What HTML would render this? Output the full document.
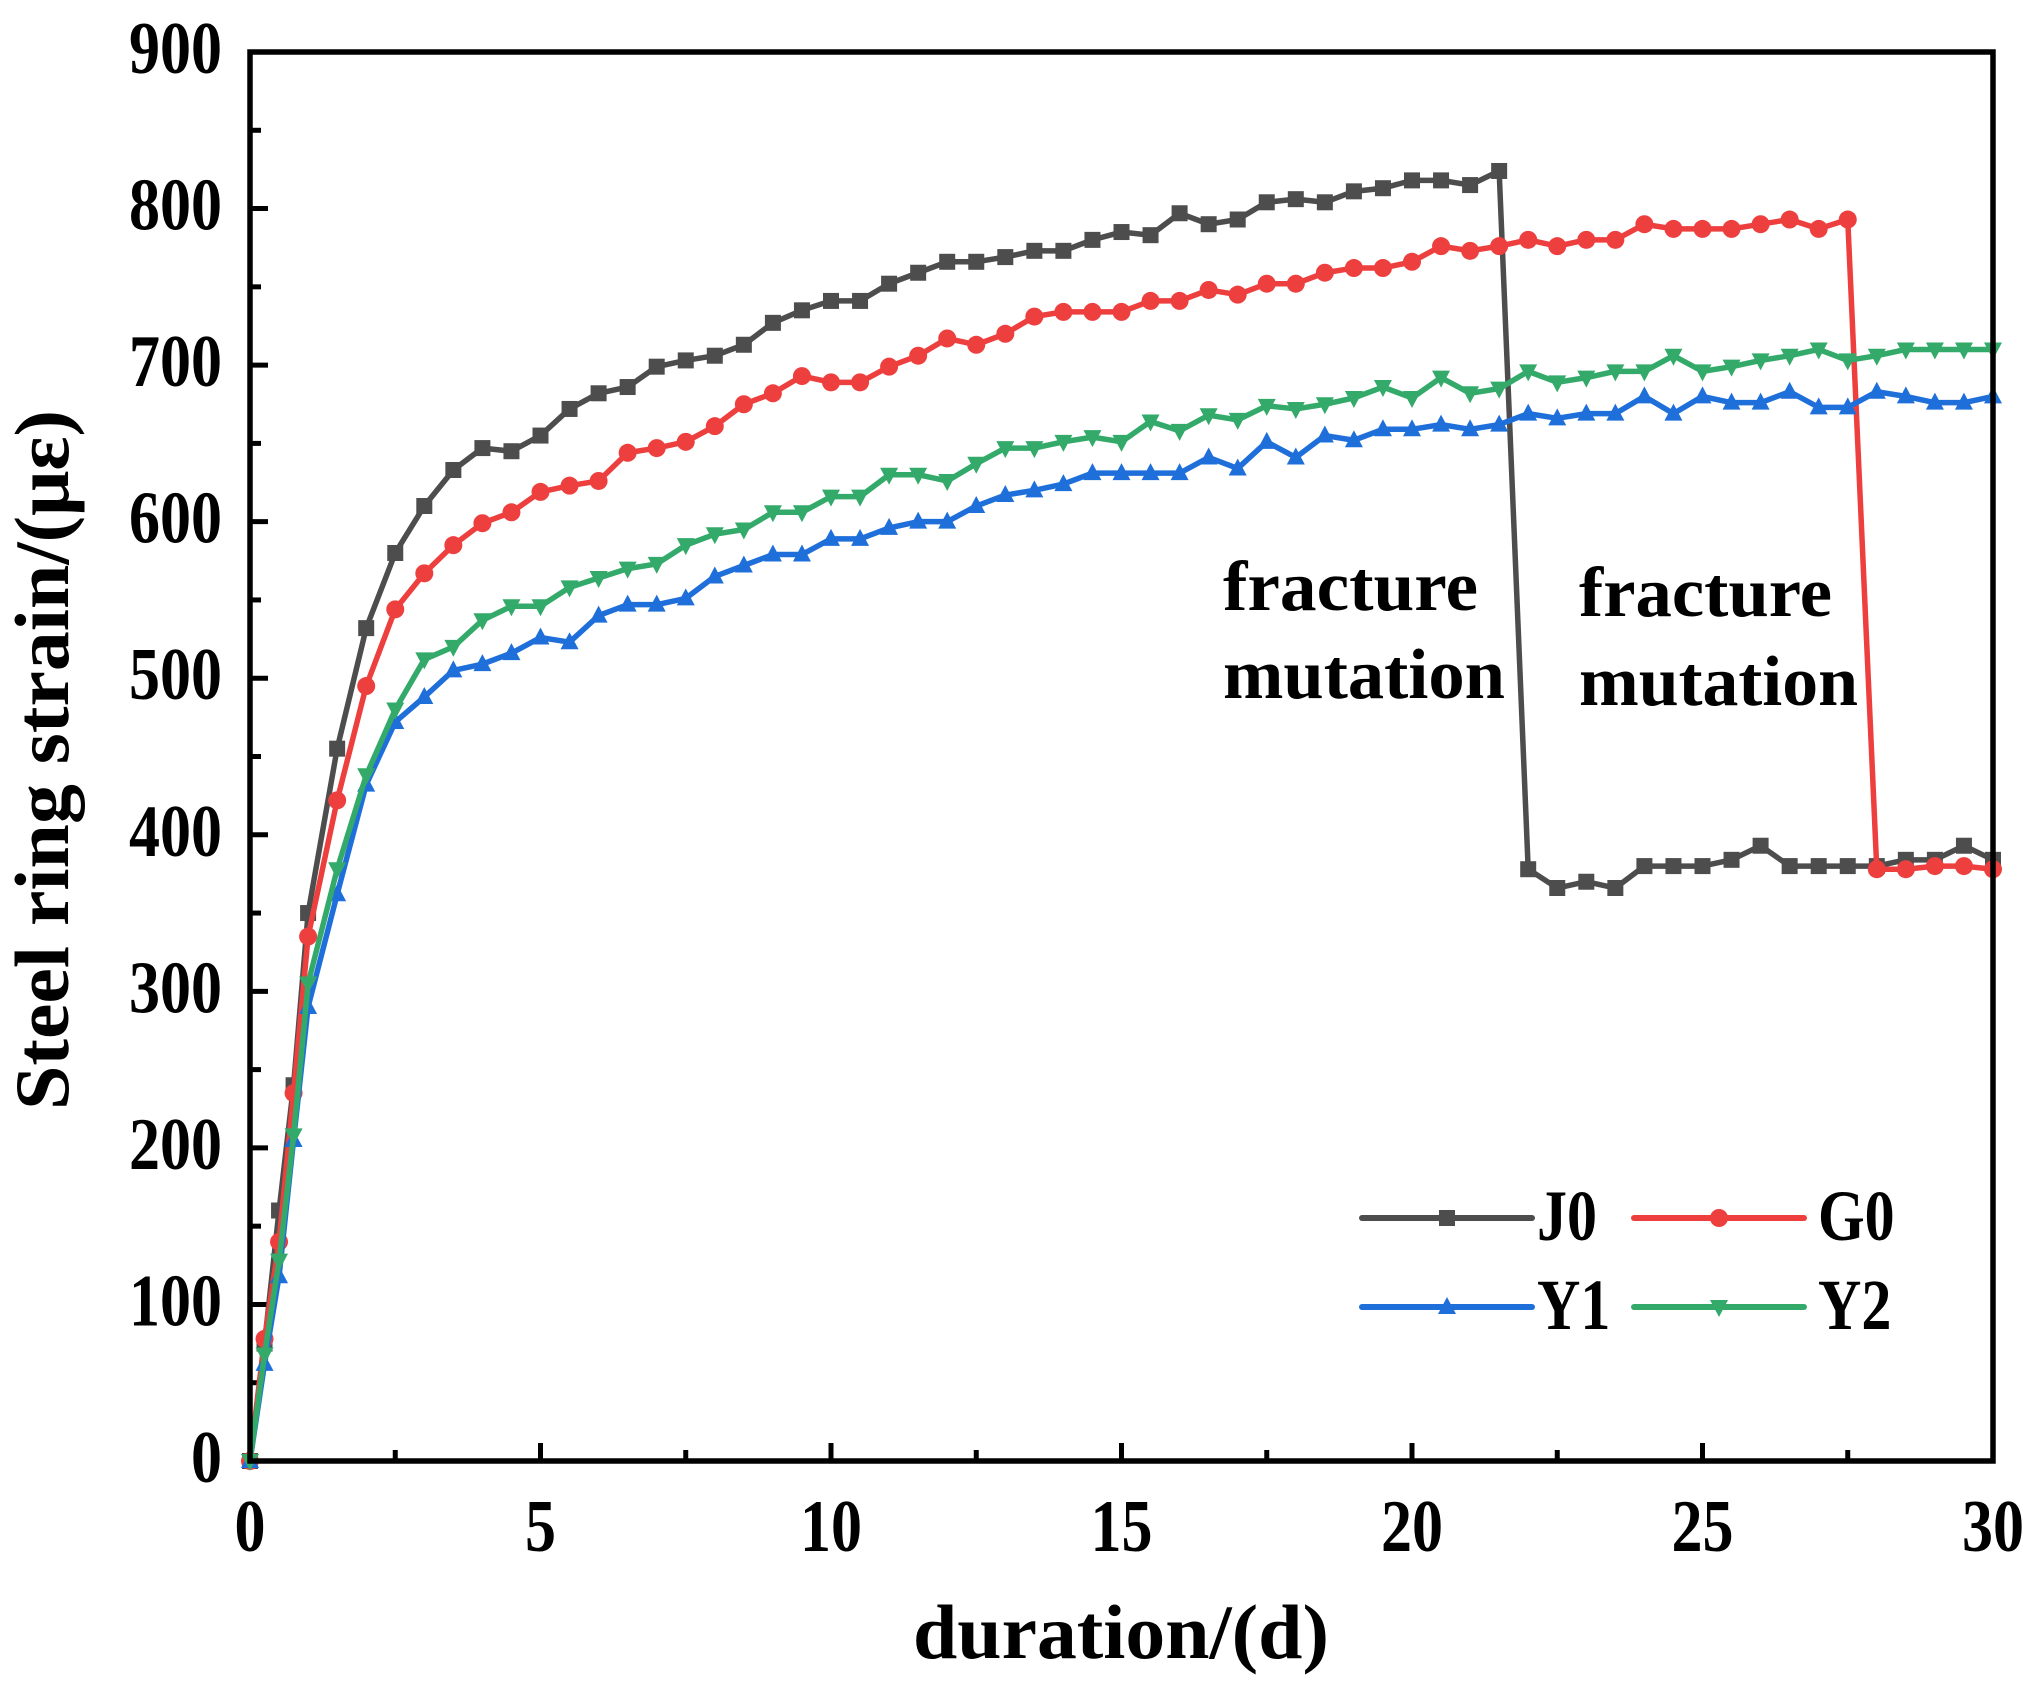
<!DOCTYPE html>
<html><head><meta charset="utf-8"><style>
html,body{margin:0;padding:0;background:#fff;}
svg{display:block;font-family:"Liberation Serif",serif;font-weight:bold;}
</style></head><body>
<svg id="s" width="2043" height="1705" viewBox="0 0 2043 1705" xmlns="http://www.w3.org/2000/svg">
<rect width="2043" height="1705" fill="#fff"/>
<g id="ticks" stroke="#000" stroke-width="5"></g>
<g id="series"></g>
<rect x="250" y="52" width="1743" height="1409" fill="none" stroke="#000" stroke-width="5.5"/>
<g font-size="62" text-anchor="end" fill="#000" id="ylab"></g>
<g font-size="62" text-anchor="middle" fill="#000" id="xlab"></g>
<text transform="translate(1121,1658) scale(1,1.2)" font-size="64" text-anchor="middle" textLength="416" lengthAdjust="spacingAndGlyphs">duration/(d)</text>
<text transform="translate(68,760) rotate(-90) scale(1,1.2)" font-size="64" text-anchor="middle" textLength="700" lengthAdjust="spacingAndGlyphs">Steel ring strain/(με)</text>
<g font-size="62" fill="#000">
<text transform="translate(1223,610) scale(1,1.15)" textLength="255" lengthAdjust="spacingAndGlyphs">fracture</text>
<text transform="translate(1223,698) scale(1,1.15)" textLength="282" lengthAdjust="spacingAndGlyphs">mutation</text>
<text transform="translate(1579,616) scale(1,1.15)" textLength="253" lengthAdjust="spacingAndGlyphs">fracture</text>
<text transform="translate(1579,705) scale(1,1.15)" textLength="279" lengthAdjust="spacingAndGlyphs">mutation</text>
</g>
<g id="legend"></g>
<g font-size="60" fill="#000">
<text transform="translate(1537,1240) scale(1,1.2)">J0</text><text transform="translate(1818,1240) scale(1,1.2)">G0</text>
<text transform="translate(1537,1329) scale(1,1.2)">Y1</text><text transform="translate(1818,1329) scale(1,1.2)">Y2</text>
</g>
</svg>
<script>
const NS="http://www.w3.org/2000/svg";
const L=250,R=1993,T=52,B=1461;
const X=x=>L+(R-L)*x/30, Y=y=>B-(B-T)*y/900;
function el(p,n,a){const e=document.createElementNS(NS,n);for(const k in a)e.setAttribute(k,a[k]);p.appendChild(e);return e;}
const yl=document.getElementById('ylab'),xl=document.getElementById('xlab');
for(let v=0;v<=900;v+=100){const t=el(yl,'text',{transform:`translate(222,${Y(v)+21}) scale(1,1.2)`});t.textContent=v;}
for(let v=0;v<=30;v+=5){const t=el(xl,'text',{transform:`translate(${X(v)},${B+90}) scale(1,1.2)`});t.textContent=v;}
const tk=document.getElementById('ticks');
for(let v=50;v<900;v+=50){const y=Y(v);const len=v%100==0?18:11;el(tk,'line',{x1:L,x2:L+len,y1:y,y2:y});}
for(let v=2.5;v<30;v+=2.5){const x=X(v);const len=v%5==0?18:11;el(tk,'line',{x1:x,x2:x,y1:B,y2:B-len});}
const xs=[0,0.25,0.5,0.75,1];for(let v=1.5;v<=30.01;v+=0.5)xs.push(v);
const D={
J0:[0,75,160,240,350,455,532,580,610,633,647,645,655,672,682,686,699,703,706,713,727,735,741,741,752,759,766,766,769,773,773,780,785,783,797,790,793,804,806,804,811,813,818,818,815,824,378,366,370,366,380,380,380,384,393,380,380,380,380,384,384,393,384],
G0:[0,78,140,235,335,422,495,544,567,585,599,606,619,623,626,644,647,651,661,675,682,693,689,689,699,706,717,713,720,731,734,734,734,741,741,748,745,752,752,759,762,762,766,776,773,776,780,776,780,780,790,787,787,787,790,793,787,793,378,378,380,380,378],
Y1:[0,62,118,205,290,362,432,472,488,505,509,516,526,523,540,547,547,551,565,572,579,579,589,589,596,600,600,610,617,620,624,631,631,631,631,641,634,651,641,655,652,659,659,662,659,662,669,666,669,669,680,669,680,676,676,683,673,673,683,680,676,676,680],
Y2:[0,68,128,208,305,378,438,480,512,520,537,546,546,558,564,570,573,585,592,595,606,606,616,616,630,630,626,637,647,647,651,654,651,664,658,668,665,674,672,675,679,686,679,692,682,685,696,689,692,696,696,706,696,699,703,706,710,703,706,710,710,710,710]};
const C={J0:'#4d4d4d',G0:'#ee3f3f',Y1:'#1f6fdb',Y2:'#33aa6a'};
function marker(g,k,x,y){const c=C[k];
 if(k=='J0')el(g,'rect',{x:x-8,y:y-8,width:16,height:16,fill:c});
 else if(k=='G0')el(g,'circle',{cx:x,cy:y,r:9,fill:c});
 else if(k=='Y1')el(g,'polygon',{points:`${x},${y-10} ${x-9},${y+7} ${x+9},${y+7}`,fill:c});
 else el(g,'polygon',{points:`${x},${y+10} ${x-9},${y-7} ${x+9},${y-7}`,fill:c});}
const sg=document.getElementById('series');
['J0','G0','Y1','Y2'].forEach(k=>{const g=el(sg,'g',{});
 const pts=D[k].map((v,i)=>[X(xs[i]),Y(v)]);
 el(g,'polyline',{points:pts.map(p=>p.join(',')).join(' '),fill:'none',stroke:C[k],'stroke-width':5.5,'stroke-linejoin':'round'});
 pts.forEach(p=>marker(g,k,p[0],p[1]));});
const lg=document.getElementById('legend');
[['J0',1362,1218],['G0',1634,1218],['Y1',1362,1307],['Y2',1634,1307]].forEach(([k,x,y])=>{
 el(lg,'line',{x1:x,x2:x+170,y1:y,y2:y,stroke:C[k],'stroke-width':6,'stroke-linecap':'round'});marker(lg,k,x+85,y);});
</script>
</body></html>
